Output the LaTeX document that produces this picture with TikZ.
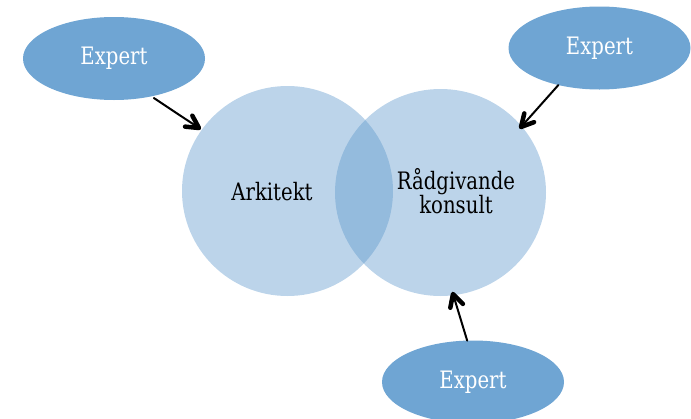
\documentclass[tikz,border=0pt]{standalone}
\usepackage{fontspec}
\setmainfont{DejaVu Serif}[FakeStretch=0.82]
\usetikzlibrary{shapes.geometric,calc}
\definecolor{circfill}{RGB}{88,148,202}
\definecolor{expfill}{RGB}{111,165,211}
\tikzset{
  venn/.style={ellipse, fill=circfill, fill opacity=0.4, inner sep=0pt, outer sep=0pt},
  expert/.style={ellipse, fill=expfill, inner sep=0pt, outer sep=0pt,
    minimum width=182pt, minimum height=83pt, text=white, font=\fontsize{24}{26}\selectfont},
  lbl/.style={text=black, align=center, font=\fontsize{24}{23}\selectfont},
  conn/.style={line width=2pt, line cap=round},
  chevron/.style={line width=4.5pt, line cap=round, line join=round}
}
\begin{document}
\begin{tikzpicture}[x=1pt,y=-1pt]
\useasboundingbox (0,0) rectangle (691,418);
\node[venn, minimum width=211pt, minimum height=210pt] (ark) at (287.5,191) {};
\node[venn, minimum width=211pt, minimum height=207pt] (rad) at (440.5,192.5) {};
\node[lbl] (arkt) at (272,192) {Arkitekt};
\node[lbl] (radt) at (456,191) {Rådgivande\\konsult};
\node[expert] (e1) at (114,58.5) {Expert};
\node[expert] (e2) at (599.5,48) {Expert};
\node[expert] (e3) at (473,382) {Expert};
\coordinate (s1) at ([shift={(1,2)}]e1.-44);
\coordinate (s2) at (e2.-138);
\coordinate (s3) at (e3.98);
\coordinate (t1) at (199,128);
\coordinate (t2) at (521,127);
\coordinate (t3) at (453,294);
\draw[conn] (s1) -- ($(t1)!2pt!(s1)$);
\draw[conn] (s2) -- ($(t2)!2pt!(s2)$);
\draw[conn] (s3) -- ($(t3)!2pt!(s3)$);
\draw[chevron] ($(t1)!14pt!28:(s1)$) -- (t1) -- ($(t1)!14pt!-28:(s1)$);
\draw[chevron] ($(t2)!14pt!28:(s2)$) -- (t2) -- ($(t2)!14pt!-28:(s2)$);
\draw[chevron] ($(t3)!14pt!28:(s3)$) -- (t3) -- ($(t3)!14pt!-28:(s3)$);
\end{tikzpicture}
\end{document}
